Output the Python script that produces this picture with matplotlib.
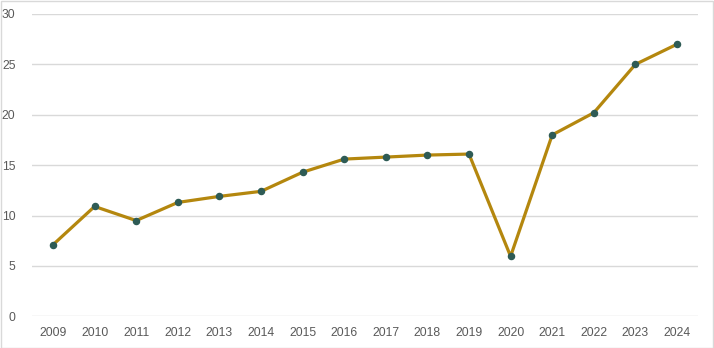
import matplotlib
matplotlib.use("Agg")
import matplotlib.pyplot as plt
from matplotlib.patches import Rectangle

years = ["2009", "2010", "2011", "2012", "2013", "2014", "2015", "2016",
         "2017", "2018", "2019", "2020", "2021", "2022", "2023", "2024"]
values = [7.1, 10.9, 9.5, 11.3, 11.9, 12.4, 14.3, 15.6,
          15.8, 16.0, 16.1, 5.95, 18.0, 20.2, 25.0, 27.0]
y_ticks = [0, 5, 10, 15, 20, 25, 30]

plt.rcParams["font.family"] = ["Liberation Sans", "DejaVu Sans"]

fig = plt.figure(figsize=(7.14, 3.48), dpi=100)
ax = fig.add_axes([32.2 / 714, 1 - 316.3 / 348, (697.8 - 32.2) / 714, (316.3 - 14) / 348])

x = list(range(len(years)))
ax.plot(x, values, color="#B4870E", linewidth=2.3, zorder=3,
        marker="o", markersize=4.4, markerfacecolor="#2E5B55",
        markeredgecolor="#2E5B55", solid_joinstyle="round")

ax.set_xlim(-0.5, len(years) - 0.5)
ax.set_ylim(0, 30)
ax.set_yticks(y_ticks)
ax.set_xticks(x)
ax.set_xticklabels(years)
ax.grid(axis="y", color="#D9D9D9", linewidth=1)
ax.set_axisbelow(True)
for s in ax.spines.values():
    s.set_visible(False)
ax.tick_params(axis="both", length=0, labelsize=8.7, labelcolor="#595959")
ax.tick_params(axis="y", pad=12)
ax.tick_params(axis="x", pad=8)

# outer chart border
fig.patches.append(Rectangle((0.5 / 714, 0.5 / 348), 1 - 1.5 / 714, 1 - 1.5 / 348,
                             transform=fig.transFigure, fill=False,
                             edgecolor="#D9D9D9", linewidth=1))

fig.savefig("out.png", dpi=100)
